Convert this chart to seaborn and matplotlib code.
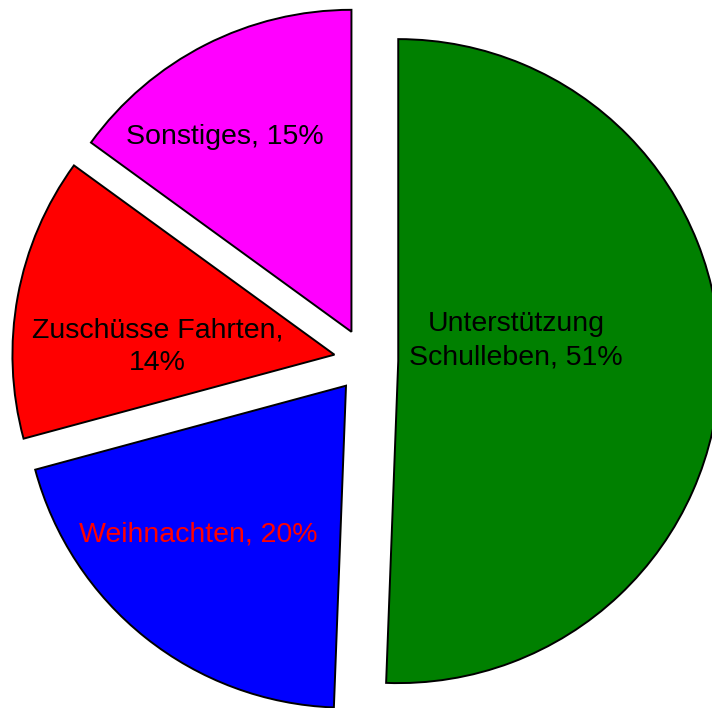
import matplotlib
matplotlib.use("Agg")
import matplotlib.pyplot as plt
import seaborn as sns

# slice data (percent), clockwise from the top
labels = ["Unterstützung\nSchulleben, 51%", "Weihnachten, 20%",
          "Zuschüsse Fahrten,\n14%", "Sonstiges, 15%"]
shares = [50.6, 20.2, 14.2, 15.0]
colors = ["#008000", "#0000ff", "#ff0000", "#ff00ff"]
label_colors = ["black", "#ff0000", "black", "black"]
explode = [0.1, 0.1, 0.1, 0.1]

# label centres inside the slices (in pie radius units)
label_pos = [(0.466, 0.062), (-0.520, -0.540), (-0.647, 0.043), (-0.439, 0.695)]

sns.set_style("white")
plt.rcParams["font.family"] = ["Liberation Sans", "DejaVu Sans"]

fig = plt.figure(figsize=(7.12, 7.08), dpi=100)
ax = fig.add_axes([0, 0, 1, 1])

ax.pie(shares, colors=colors, explode=explode, startangle=90,
       counterclock=False, radius=1,
       wedgeprops=dict(edgecolor="black", linewidth=1.4))

for txt, (x, y), c in zip(labels, label_pos, label_colors):
    ax.text(x, y, txt, ha="center", va="center", multialignment="center",
            fontsize=20.5, color=c, linespacing=1.35)

ax.set_aspect("auto")
ax.set_xlim(-1.137, 1.0745)
ax.set_ylim(-1.0792, 1.1196)
ax.axis("off")

fig.savefig("out.png", dpi=100)
